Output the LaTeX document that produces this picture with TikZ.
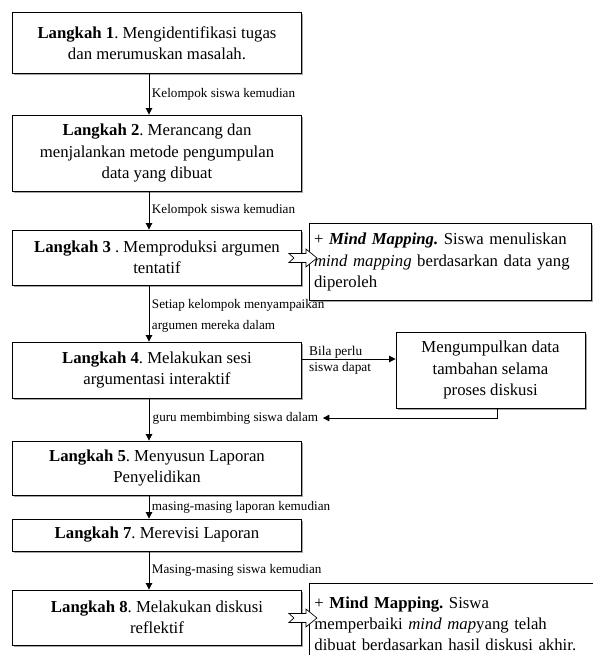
\documentclass[tikz,border=0pt]{standalone}
\usepackage{fontspec}
\setmainfont{Liberation Serif}
\usetikzlibrary{arrows.meta,shadows}
\frenchspacing
\begin{document}
\begin{tikzpicture}[x=1bp,y=-1bp,
  stepbox/.style={draw=black,line width=0.9bp,fill=white,align=center,
    font=\fontsize{16.8}{21.5}\selectfont\frenchspacing,inner sep=2bp,
    drop shadow={shadow xshift=1.6bp,shadow yshift=-1.6bp,fill=gray!70,opacity=1}},
  sidebox/.style={stepbox,align=left},
  lbl/.style={font=\fontsize{13.2}{21}\selectfont,inner sep=0.5bp,align=left},
  flow/.style={line width=0.9bp,-{Triangle[length=6.5bp,width=6.5bp]}},
  notch/.style={draw=black,fill=white,line width=0.7bp,line join=miter}]
\useasboundingbox (0,0) rectangle (593,655);
\clip (0,0) rectangle (593,655);
\fill[white] (0,0) rectangle (593,655);

\node[stepbox,minimum width=289bp,minimum height=61bp] (s1) at (157,43)
  {\textbf{Langkah 1}. Mengidentifikasi tugas\\dan merumuskan masalah.};
\node[stepbox,minimum width=289bp,minimum height=76bp] (s2) at (157,153)
  {\textbf{Langkah 2}. Merancang dan\\menjalankan metode pengumpulan\\data yang dibuat};
\node[stepbox,minimum width=289bp,minimum height=55bp] (s3) at (157,257.5)
  {\textbf{Langkah 3} . Memproduksi argumen\\tentatif};
\node[stepbox,minimum width=289bp,minimum height=56bp] (s4) at (157,370)
  {\textbf{Langkah 4}. Melakukan sesi\\argumentasi interaktif};
\node[stepbox,minimum width=289bp,minimum height=54bp] (s5) at (157,468)
  {\textbf{Langkah 5}. Menyusun Laporan\\Penyelidikan};
\node[stepbox,minimum width=289bp,minimum height=32bp] (s7) at (157,535)
  {\textbf{Langkah 7}. Merevisi Laporan};
\node[stepbox,minimum width=289bp,minimum height=55bp] (s8) at (157,617.5)
  {\textbf{Langkah 8}. Melakukan diskusi\\reflektif};

\node[sidebox,minimum width=282bp,minimum height=77bp,text width=272bp] (m3) at (450,262)
  {+ \textbf{\textit{Mind Mapping.}} Siswa menuliskan\\\textit{mind mapping} berdasarkan data yang\\diperoleh};
\node[stepbox,minimum width=189bp,minimum height=76bp] (d4) at (490.5,370)
  {Mengumpulkan data\\tambahan selama\\proses diskusi};
\node[sidebox,minimum width=292bp,text width=282bp,anchor=north west,inner ysep=13bp] (m8) at (309,583)
  {+ \textbf{Mind Mapping.} Siswa\\memperbaiki \textit{mind map}yang telah\\dibuat berdasarkan hasil diskusi akhir.\\[22bp]\mbox{}};

\draw[flow] ([xshift=-8bp]s1.south) -- node[lbl,right,xshift=2bp] {Kelompok siswa kemudian} ([xshift=-8bp]s2.north);
\draw[flow] ([xshift=-8bp]s2.south) -- node[lbl,right,xshift=2bp] {Kelompok siswa kemudian} ([xshift=-8bp]s3.north);
\draw[flow] ([xshift=-8bp]s3.south) -- node[lbl,right,xshift=2bp,yshift=-2bp] {Setiap kelompok menyampaikan\\argumen mereka dalam} ([xshift=-8bp]s4.north);
\draw[flow] ([xshift=-8bp]s4.south) -- coordinate[pos=0.5] (g4) ([xshift=-8bp]s5.north);
\draw[flow] ([xshift=-8bp]s5.south) -- node[lbl,right,xshift=2bp] {masing-masing laporan kemudian} ([xshift=-8bp]s7.north);
\draw[flow] ([xshift=-8bp]s7.south) -- node[lbl,right,xshift=2bp] {Masing-masing siswa kemudian} ([xshift=-8bp]s8.north);

\node[lbl,anchor=west] (gl) at (152,418) {guru membimbing siswa dalam};
\draw[flow] ([xshift=6.5bp]d4.south) |- ([xshift=4bp]gl.east);

\coordinate (a4) at (s4.east |- 0,359);
\draw[flow] (a4) -- (a4 -| d4.west);
\node[lbl,font=\fontsize{13.4}{14}\selectfont,anchor=base west,inner sep=0bp] (bp) at (309,355.5) {Bila perlu};
\node[lbl,font=\fontsize{13.4}{14}\selectfont,anchor=base west,inner sep=0bp] (sd) at (309,371) {siswa dapat};

\newcommand{\notcharrow}[1]{%
  \draw[notch] ([xshift=-13bp,yshift=-4.5bp]#1) -- ([xshift=4bp,yshift=-4.5bp]#1)
    -- ([xshift=4bp,yshift=-9bp]#1) -- ([xshift=15bp]#1)
    -- ([xshift=4bp,yshift=9bp]#1) -- ([xshift=4bp,yshift=4.5bp]#1)
    -- ([xshift=-13bp,yshift=4.5bp]#1) -- ([xshift=-8bp]#1) -- cycle;}
\coordinate (n3) at (s3.east |- 0,258);
\notcharrow{n3}
\coordinate (n8) at (s8.east |- 0,618);
\notcharrow{n8}
\end{tikzpicture}
\end{document}
